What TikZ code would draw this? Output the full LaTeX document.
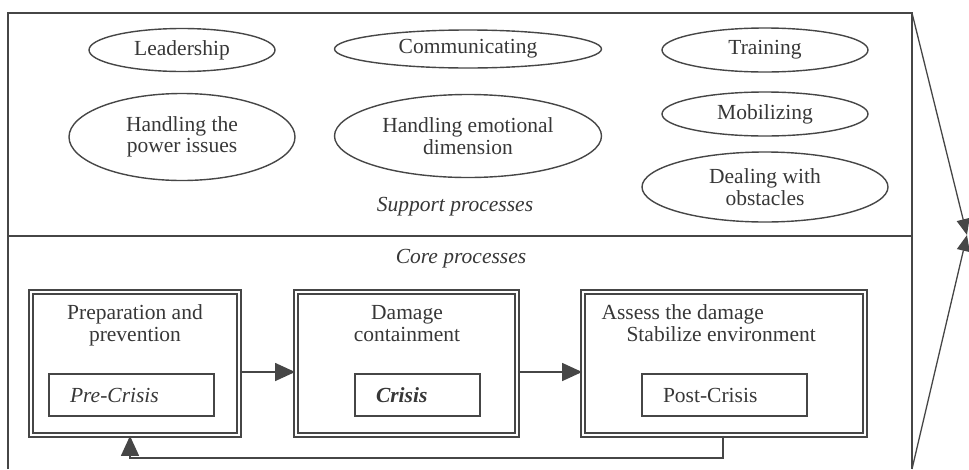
\documentclass[tikz,border=0pt]{standalone}
\usepackage{fontspec}
\setmainfont{Liberation Serif}
\usetikzlibrary{shapes.geometric,arrows.meta}
\definecolor{ln}{RGB}{70,70,70}
\definecolor{tx}{RGB}{55,55,55}
\begin{document}
\begin{tikzpicture}[x=1pt,y=-1pt,
  every node/.style={text=tx, font=\fontsize{21.5}{21.5}\selectfont},
  ell/.style={draw=ln, line width=1.4pt, ellipse, inner sep=0pt, align=center},
  bigbox/.style={draw=ln, line width=1.8pt, double=white, double distance=2.4pt, rectangle, inner sep=0pt, minimum height=143pt},
  inbox/.style={draw=ln, line width=1.4pt, rectangle, minimum height=42pt, inner xsep=21pt, inner ysep=0pt, align=left},
  arr/.style={draw=ln, line width=1.4pt, -{Triangle[length=20pt,width=18pt]}},
  arrsm/.style={draw=ln, line width=1.3pt, -{Triangle[length=16pt,width=13pt]}},
  frame/.style={draw=ln, line width=1.8pt}
]
\useasboundingbox (0,0) rectangle (969,469);
% frame
\coordinate (ftl) at (8,13);
\coordinate (ftr) at (912,13);
\coordinate (fbl) at (8,469);
\coordinate (fbr) at (912,469);
\coordinate (dl) at (8,236);
\coordinate (dr) at (912,236);
\coordinate (tip) at (967,235);
\draw[frame] (fbl) -- (ftl) -- (ftr) -- (fbr);
\draw[frame] (dl) -- (dr);
\draw[arrsm] (ftr) -- (tip);
\draw[arrsm] (fbr) -- (tip);
% support processes
\node[ell, minimum width=186pt, minimum height=43pt] (lead) at (182,50) {Leadership};
\node[ell, minimum width=226pt, minimum height=87pt] (pow) at (182,137) {Handling the\\power issues};
\node[ell, minimum width=267pt, minimum height=38pt] (comm) at (468,49) {Communicating};
\node[ell, minimum width=267pt, minimum height=83pt] (emo) at (468,136) {Handling emotional\\dimension};
\node[ell, minimum width=206pt, minimum height=44pt] (train) at (765,50) {Training};
\node[ell, minimum width=206pt, minimum height=44pt] (mob) at (765,114) {Mobilizing};
\node[ell, minimum width=246pt, minimum height=70pt] (obst) at (765,187) {Dealing with\\obstacles};
\node[anchor=base] (sup) at (455,211) {\itshape Support processes};
\node[anchor=base] (core) at (461,263) {\itshape Core processes};
% core boxes
\node[bigbox, minimum width=208pt] (b1) at (135,363.5) {};
\node[bigbox, minimum width=221pt] (b2) at (406.5,363.5) {};
\node[bigbox, minimum width=282pt] (b3) at (724,363.5) {};
\node[anchor=base, align=center] (t1) at (135,341) {Preparation and\\prevention};
\node[anchor=base, align=center] (t2) at (407,341) {Damage\\containment};
\node[anchor=base west, align=left] (t3) at (598,341) {Assess the damage\\\hspace*{25pt}Stabilize environment};
\node[inbox, text width=123pt] (pre) at (131.5,395) {\itshape Pre-Crisis};
\node[inbox, text width=83pt] (cri) at (417.5,395) {\bfseries\itshape Crisis};
\node[inbox, text width=123pt] (post) at (724.5,395) {Post-Crisis};
% arrows
\coordinate (a1) at (0,372);
\draw[arr] (b1.east |- a1) -- (b2.west |- a1);
\draw[arr] (b2.east |- a1) -- (b3.west |- a1);
\coordinate (fbA) at (723,458);
\coordinate (fbB) at (130,458);
\draw[arr] (b3.south -| fbA) -- (fbA) -- (fbB) -- (b1.south -| fbB);
\end{tikzpicture}
\end{document}
